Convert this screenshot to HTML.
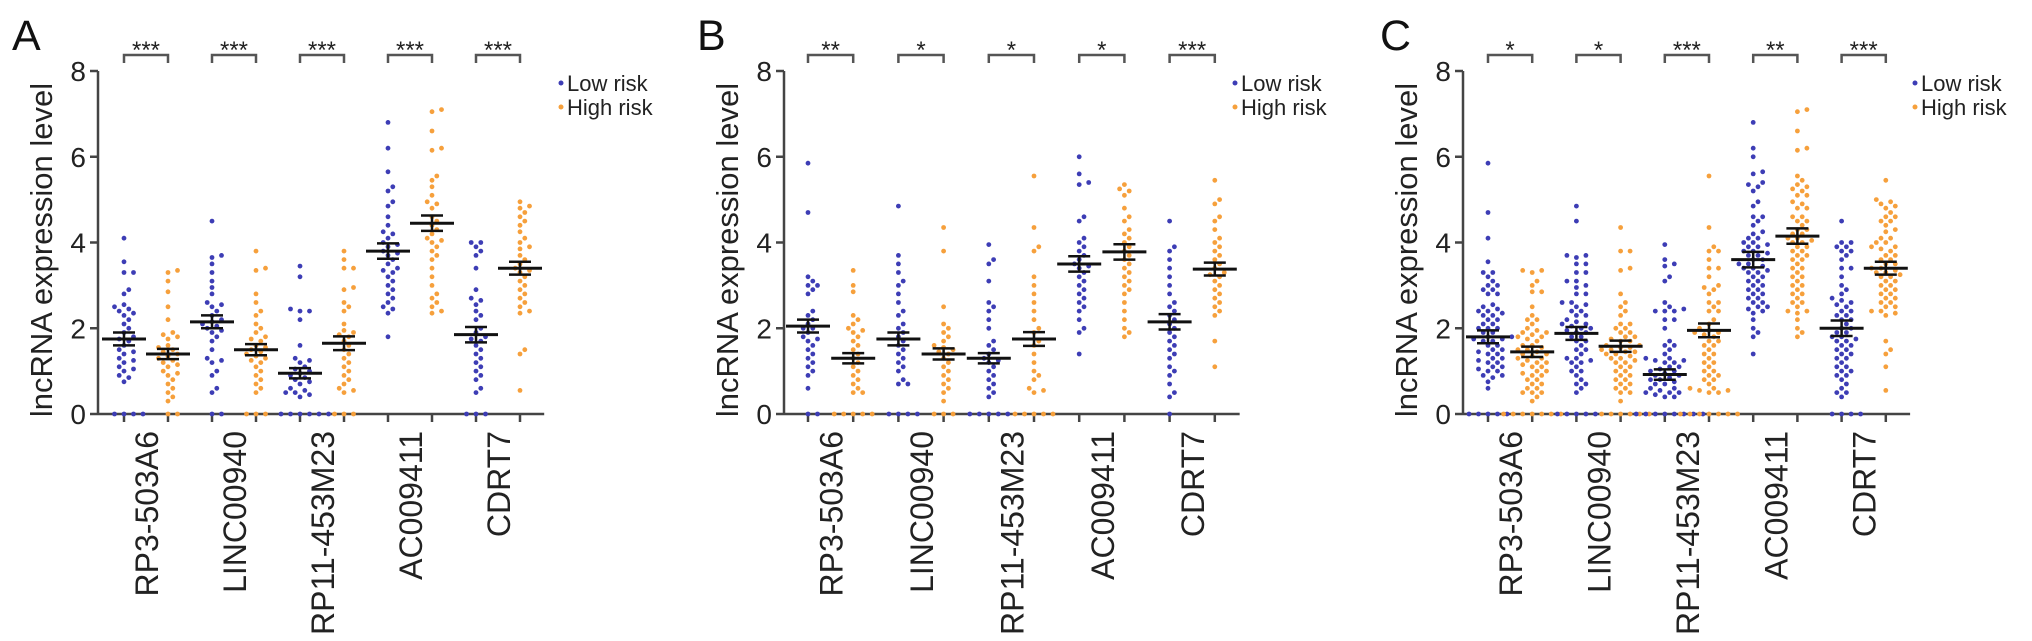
<!DOCTYPE html>
<html><head><meta charset="utf-8"><style>
html,body{margin:0;padding:0;background:#fff;}
svg{display:block;font-family:"Liberation Sans",Arial,sans-serif;}
</style></head><body>
<svg id="fig" width="2032" height="641" viewBox="0 0 2032 641" xmlns="http://www.w3.org/2000/svg"></svg>
<script>
const categories=["RP3-503A6","LINC00940","RP11-453M23","AC009411","CDRT7"];
const yTicks=[0,2,4,6,8];
const panelALow=[
[4.1,3.55,3.3,3.3,2.9,2.8,2.55,2.5,2.45,2.4,2.35,2.3,2.2,2.1,2.0,1.9,1.8,1.75,1.7,1.6,1.5,1.45,1.4,1.3,1.25,1.2,1.1,1.05,1.0,0.9,0.85,0.75,0,0,0,0],
[4.5,3.7,3.65,3.5,3.3,3.1,2.95,2.8,2.6,2.55,2.5,2.4,2.3,2.2,2.15,2.1,2.05,2.0,1.95,1.9,1.8,1.7,1.5,1.3,1.25,1.2,1.0,0.9,0.6,0.5,0,0],
[3.45,3.2,2.45,2.4,2.4,2.2,1.6,1.3,1.25,1.2,1.1,1.05,1.0,0.95,0.9,0.85,0.8,0.75,0.7,0.6,0.55,0.5,0.5,0.45,0.4,0,0,0,0,0,0],
[6.8,6.2,5.65,5.3,5.2,4.95,4.85,4.6,4.4,4.25,4.2,4.1,4.0,3.95,3.9,3.8,3.75,3.7,3.6,3.5,3.4,3.35,3.3,3.2,3.1,3.0,2.9,2.8,2.7,2.6,2.5,2.45,2.35,1.8],
[4.0,4.0,3.9,3.8,3.7,3.4,2.9,2.7,2.65,2.55,2.4,2.3,2.2,2.0,1.9,1.8,1.75,1.7,1.6,1.5,1.4,1.3,1.2,1.1,1.0,0.9,0.8,0.6,0.5,0,0,0]];
const panelAHigh=[
[3.35,3.3,3.1,2.85,2.5,2.2,1.9,1.85,1.8,1.75,1.6,1.55,1.5,1.45,1.4,1.35,1.3,1.25,1.2,1.15,1.1,1.0,0.95,0.9,0.8,0.7,0.6,0.5,0.4,0.3,0,0],
[3.8,3.4,3.35,2.8,2.6,2.4,2.3,2.1,2.0,1.9,1.8,1.75,1.7,1.6,1.55,1.5,1.45,1.4,1.35,1.3,1.25,1.2,1.1,1.0,0.9,0.8,0.7,0.6,0.5,0,0,0],
[3.8,3.6,3.4,3.4,2.95,2.9,2.6,2.5,2.4,2.1,1.95,1.9,1.85,1.8,1.7,1.6,1.5,1.4,1.3,1.2,1.1,1.0,0.9,0.8,0.7,0.6,0.55,0.5,0,0,0],
[7.1,7.05,6.6,6.2,6.15,5.55,5.45,5.3,5.1,4.95,4.9,4.8,4.6,4.5,4.4,4.3,4.2,4.1,4.05,4.0,3.9,3.8,3.7,3.6,3.4,3.2,3.0,2.8,2.7,2.6,2.5,2.4,2.35],
[4.95,4.85,4.8,4.7,4.6,4.5,4.4,4.25,4.1,4.0,3.9,3.85,3.7,3.6,3.5,3.4,3.35,3.3,3.2,3.1,3.0,2.9,2.8,2.7,2.6,2.5,2.4,2.35,1.5,1.4,0.55]];
const panelAMeanLow=[1.75,2.15,0.95,3.8,1.85];
const panelAMeanHigh=[1.4,1.5,1.65,4.45,3.4];
const panelASig=["***","***","***","***","***"];

const panelBLow=[
[5.85,4.7,3.2,3.1,3.0,3.0,2.9,2.8,2.4,2.3,2.2,2.1,2.0,2.0,1.9,1.8,1.75,1.7,1.6,1.5,1.4,1.3,1.2,1.1,1.0,0.9,0.6,0,0],
[4.85,3.7,3.5,3.3,3.1,3.0,2.8,2.6,2.4,2.3,2.1,2.0,1.9,1.8,1.7,1.6,1.5,1.4,1.3,1.2,1.1,1.0,0.8,0.7,0.7,0,0,0,0],
[3.95,3.6,3.5,3.1,2.6,2.5,2.4,2.2,2.0,1.7,1.6,1.5,1.4,1.3,1.25,1.2,1.1,1.0,0.9,0.8,0.7,0.6,0.5,0.4,0,0,0,0,0],
[6.0,5.6,5.4,5.35,4.6,4.5,4.1,4.0,3.9,3.8,3.7,3.6,3.5,3.45,3.4,3.3,3.2,3.1,3.0,2.9,2.8,2.7,2.6,2.5,2.4,2.2,2.0,1.9,1.4],
[4.5,3.9,3.8,3.6,3.4,3.2,3.0,2.8,2.6,2.5,2.4,2.3,2.2,2.1,2.0,1.9,1.8,1.7,1.6,1.5,1.4,1.3,1.1,1.0,0.9,0.7,0.5,0.4,0]];
const panelBHigh=[
[3.35,3.0,2.85,2.3,2.2,2.1,2.0,1.95,1.9,1.8,1.7,1.6,1.5,1.4,1.3,1.2,1.1,1.0,0.9,0.8,0.7,0.6,0.5,0.5,0,0,0,0,0],
[4.35,3.8,2.5,2.1,2.0,1.9,1.8,1.7,1.6,1.55,1.5,1.45,1.4,1.3,1.2,1.1,1.0,0.9,0.8,0.7,0.6,0.5,0.3,0,0,0],
[5.55,4.35,3.9,3.8,3.2,3.0,2.8,2.6,2.4,2.2,2.0,1.9,1.7,1.6,1.4,1.2,1.0,0.9,0.8,0.6,0.55,0.5,0,0,0,0,0],
[5.35,5.25,5.2,5.1,4.8,4.6,4.5,4.3,4.2,4.1,4.0,3.9,3.8,3.7,3.6,3.5,3.4,3.3,3.2,3.1,3.0,2.9,2.8,2.6,2.4,2.2,2.0,1.9,1.8],
[5.45,5.0,4.9,4.6,4.5,4.3,4.1,4.0,3.9,3.8,3.7,3.6,3.5,3.4,3.3,3.25,3.2,3.1,3.0,2.9,2.8,2.7,2.6,2.5,2.4,2.3,1.7,1.1]];
const panelBMeanLow=[2.05,1.75,1.3,3.5,2.15];
const panelBMeanHigh=[1.3,1.4,1.75,3.78,3.38];
const panelBSig=["**","*","*","*","***"];

const panelCLow=[
[5.85,4.7,4.1,3.55,3.3,3.3,3.2,3.1,3.0,3.0,2.9,2.9,2.8,2.8,2.55,2.5,2.45,2.4,2.4,2.35,2.3,2.3,2.2,2.2,2.1,2.1,2.0,2.0,2.0,1.9,1.9,1.8,1.8,1.75,1.75,1.7,1.7,1.6,1.6,1.5,1.5,1.45,1.4,1.4,1.3,1.3,1.25,1.2,1.2,1.1,1.1,1.05,1.0,1.0,0.9,0.9,0.85,0.75,0.6,0,0,0,0,0],
[4.85,4.5,3.7,3.7,3.65,3.5,3.5,3.3,3.3,3.1,3.1,3.0,2.95,2.8,2.8,2.6,2.6,2.55,2.5,2.4,2.4,2.3,2.3,2.2,2.15,2.1,2.1,2.05,2.0,2.0,1.95,1.9,1.9,1.8,1.8,1.7,1.7,1.6,1.5,1.5,1.4,1.3,1.3,1.25,1.2,1.2,1.1,1.0,1.0,0.9,0.8,0.7,0.7,0.6,0.5,0,0,0,0,0],
[3.95,3.6,3.5,3.45,3.2,3.1,2.6,2.5,2.45,2.4,2.4,2.4,2.2,2.2,2.0,1.7,1.6,1.6,1.5,1.4,1.3,1.3,1.25,1.25,1.2,1.2,1.1,1.1,1.05,1.0,1.0,0.95,0.9,0.9,0.85,0.8,0.8,0.75,0.7,0.7,0.6,0.6,0.55,0.5,0.5,0.5,0.45,0.4,0.4,0,0,0,0,0,0,0,0],
[6.8,6.2,6.0,5.65,5.6,5.4,5.35,5.3,5.2,4.95,4.85,4.6,4.6,4.5,4.4,4.25,4.2,4.1,4.1,4.0,4.0,3.95,3.9,3.9,3.8,3.8,3.75,3.7,3.7,3.6,3.6,3.5,3.5,3.45,3.4,3.4,3.35,3.3,3.3,3.2,3.2,3.1,3.1,3.0,3.0,2.9,2.9,2.8,2.8,2.7,2.7,2.6,2.6,2.5,2.5,2.45,2.4,2.35,2.2,2.0,1.9,1.8,1.4],
[4.5,4.0,4.0,3.9,3.9,3.8,3.8,3.7,3.6,3.4,3.4,3.2,3.0,2.9,2.8,2.7,2.65,2.6,2.55,2.5,2.4,2.4,2.3,2.3,2.2,2.2,2.1,2.0,2.0,1.9,1.9,1.8,1.8,1.75,1.7,1.7,1.6,1.6,1.5,1.5,1.4,1.4,1.3,1.3,1.2,1.1,1.1,1.0,1.0,0.9,0.9,0.8,0.7,0.6,0.5,0.5,0.4,0,0,0,0]];
const panelCHigh=[
[3.35,3.35,3.3,3.1,3.0,2.85,2.85,2.5,2.3,2.2,2.2,2.1,2.0,1.95,1.9,1.9,1.85,1.8,1.8,1.75,1.7,1.6,1.6,1.55,1.5,1.5,1.45,1.4,1.4,1.35,1.3,1.3,1.25,1.2,1.2,1.15,1.1,1.1,1.0,1.0,0.95,0.9,0.9,0.8,0.8,0.7,0.7,0.6,0.6,0.5,0.5,0.5,0.4,0.3,0,0,0,0,0,0,0],
[4.35,3.8,3.8,3.4,3.35,2.8,2.6,2.5,2.4,2.3,2.1,2.1,2.0,2.0,1.9,1.9,1.8,1.8,1.75,1.7,1.7,1.6,1.6,1.55,1.55,1.5,1.5,1.45,1.45,1.4,1.4,1.35,1.3,1.3,1.25,1.2,1.2,1.1,1.1,1.0,1.0,0.9,0.9,0.8,0.8,0.7,0.7,0.6,0.6,0.5,0.5,0.3,0,0,0,0,0,0],
[5.55,4.35,3.9,3.8,3.8,3.6,3.4,3.4,3.2,3.0,2.95,2.9,2.8,2.6,2.6,2.5,2.4,2.4,2.2,2.1,2.0,1.95,1.9,1.9,1.85,1.8,1.7,1.7,1.6,1.6,1.5,1.4,1.4,1.3,1.2,1.2,1.1,1.0,1.0,0.9,0.9,0.8,0.8,0.7,0.6,0.6,0.55,0.55,0.5,0.5,0,0,0,0,0,0,0],
[7.1,7.05,6.6,6.2,6.15,5.55,5.45,5.35,5.3,5.25,5.2,5.1,5.1,4.95,4.9,4.8,4.8,4.6,4.6,4.5,4.5,4.4,4.3,4.3,4.2,4.2,4.1,4.1,4.05,4.0,4.0,3.9,3.9,3.8,3.8,3.7,3.7,3.6,3.6,3.5,3.4,3.4,3.3,3.2,3.2,3.1,3.0,3.0,2.9,2.8,2.8,2.7,2.6,2.6,2.5,2.4,2.4,2.35,2.2,2.0,1.9,1.8],
[5.45,5.0,4.95,4.9,4.85,4.8,4.7,4.6,4.6,4.5,4.5,4.4,4.3,4.25,4.1,4.1,4.0,4.0,3.9,3.9,3.85,3.8,3.7,3.7,3.6,3.6,3.5,3.5,3.4,3.4,3.35,3.3,3.3,3.25,3.2,3.2,3.1,3.1,3.0,3.0,2.9,2.9,2.8,2.8,2.7,2.7,2.6,2.6,2.5,2.5,2.4,2.4,2.35,2.3,1.7,1.5,1.4,1.1,0.55]];
const panelCMeanLow=[1.8,1.88,0.92,3.6,2.0];
const panelCMeanHigh=[1.45,1.58,1.95,4.15,3.4];
const panelCSig=["*","*","***","**","***"];
const semLow=[0.15,0.15,0.12,0.18,0.18];
const semHigh=[0.12,0.13,0.16,0.18,0.15];

const NS="http://www.w3.org/2000/svg";
const svg=document.getElementById('fig');
const LOW_COLOR="#3d3db5", HIGH_COLOR="#f6a03c";
function mk(tag,attrs,parent){const e=document.createElementNS(NS,tag);for(const k in attrs)e.setAttribute(k,attrs[k]);(parent||svg).appendChild(e);return e;}

const Y0=414, Y8=71;
function yScale(v){return Y0-(v/8)*(Y0-Y8);}

function swarm(vals,cx,g,color,nameBase){
  const pts=[];const sorted=vals.slice().sort((a,b)=>a-b);
  const d=5.6;
  sorted.forEach(v=>{
    const y=yScale(v);let placed=false;
    for(let k=0;k<60&&!placed;k++){
      const off=(k%2?1:-1)*Math.ceil(k/2)*d*0.85;
      const x=cx+off;
      if(pts.every(p=>(p.x-x)*(p.x-x)+(p.y-y)*(p.y-y)>=d*d*0.9)){pts.push({x,y});placed=true;}
    }
    if(!placed)pts.push({x:cx,y});
  });
  pts.forEach(p=>{
    const c=mk('circle',{cx:p.x.toFixed(1),cy:p.y.toFixed(1),r:2.4,fill:color},g);
    
    
  });
}
function errbar(cx,mean,sem,g,name){
  const e=mk('g',{},g);
  
  
  const ym=yScale(mean),yt=yScale(mean+sem),yb=yScale(mean-sem);
  mk('line',{x1:cx-22,x2:cx+22,y1:ym,y2:ym,stroke:'#111','stroke-width':3},e);
  mk('line',{x1:cx,x2:cx,y1:yt,y2:yb,stroke:'#111','stroke-width':2.5},e);
  mk('line',{x1:cx-11,x2:cx+11,y1:yt,y2:yt,stroke:'#111','stroke-width':2.5},e);
  mk('line',{x1:cx-11,x2:cx+11,y1:yb,y2:yb,stroke:'#111','stroke-width':2.5},e);
}

function panel(p){
  const g=mk('g',{});
  
  
  const L=mk('text',{x:p.letterX,y:50,'font-size':43,fill:'#111'},g);L.textContent=p.letter;
  
  
  const tx=p.axisX-54,ty=250;
  const t=mk('text',{x:tx,y:ty,'font-size':31,fill:'#222','text-anchor':'middle',transform:`rotate(-90 ${tx} ${ty})`,'dominant-baseline':'middle'},g);
  t.textContent='lncRNA expression level';
  
  
  const tick=i=>p.tick0+i*p.step;
  const axisEnd=tick(9)+p.step*0.55;
  const ax=mk('g',{},g);
  
  
  mk('line',{x1:p.axisX,x2:p.axisX,y1:Y8,y2:Y0+1,stroke:'#444','stroke-width':2.5},ax);
  mk('line',{x1:p.axisX,x2:axisEnd,y1:Y0,y2:Y0,stroke:'#444','stroke-width':2.5},ax);
  yTicks.forEach(v=>{
    const y=yScale(v);
    mk('line',{x1:p.axisX-8,x2:p.axisX,y1:y,y2:y,stroke:'#444','stroke-width':2.5},ax);
    const tl=mk('text',{x:p.axisX-12,y:y+10,'font-size':28,fill:'#222','text-anchor':'end'},ax);
    tl.textContent=v;
    
    
  });
  for(let i=0;i<10;i++)mk('line',{x1:tick(i),x2:tick(i),y1:Y0,y2:Y0+8,stroke:'#444','stroke-width':2.5},ax);
  categories.forEach((c,i)=>{
    const lx=(tick(2*i)+tick(2*i+1))/2+12, ly=431;
    const tl=mk('text',{x:lx,y:ly,'font-size':32,fill:'#222','text-anchor':'end',transform:`rotate(-90 ${lx} ${ly})`},g);
    tl.textContent=c;
    
    
    const xl=tick(2*i),xh=tick(2*i+1);
    swarm(p.low[i],xl,g,LOW_COLOR,'low-risk');
    swarm(p.high[i],xh,g,HIGH_COLOR,'high-risk');
    errbar(xl,p.meanLow[i],semLow[i],g,'low-risk-mean-sem');
    errbar(xh,p.meanHigh[i],semHigh[i],g,'high-risk-mean-sem');
    const br=mk('path',{d:`M${xl} 63 V55 H${xh} V63`,fill:'none',stroke:'#555','stroke-width':2.5},g);
    
    
    const st=mk('text',{x:(xl+xh)/2,y:58,'font-size':24,fill:'#222','text-anchor':'middle'},g);
    st.textContent=p.sig[i];
    
    
  });
  const lg=mk('g',{},g);
  
  
  [['Low risk',LOW_COLOR,83],['High risk',HIGH_COLOR,107]].forEach(([n,c,y])=>{
    const e=mk('g',{},lg);
    
    
    mk('circle',{cx:p.legendX,cy:y,r:2.5,fill:c},e);
    const t2=mk('text',{x:p.legendX+6,y:y+8,'font-size':22,fill:'#222'},e);t2.textContent=n;
  });
}
panel({letter:'A',letterX:12,axisX:98,tick0:124,step:44,legendX:561,low:panelALow,high:panelAHigh,meanLow:panelAMeanLow,meanHigh:panelAMeanHigh,sig:panelASig});
panel({letter:'B',letterX:697,axisX:784,tick0:808,step:45.2,legendX:1235,low:panelBLow,high:panelBHigh,meanLow:panelBMeanLow,meanHigh:panelBMeanHigh,sig:panelBSig});
panel({letter:'C',letterX:1380,axisX:1463,tick0:1488,step:44.2,legendX:1915,low:panelCLow,high:panelCHigh,meanLow:panelCMeanLow,meanHigh:panelCMeanHigh,sig:panelCSig});
</script>
</body></html>
